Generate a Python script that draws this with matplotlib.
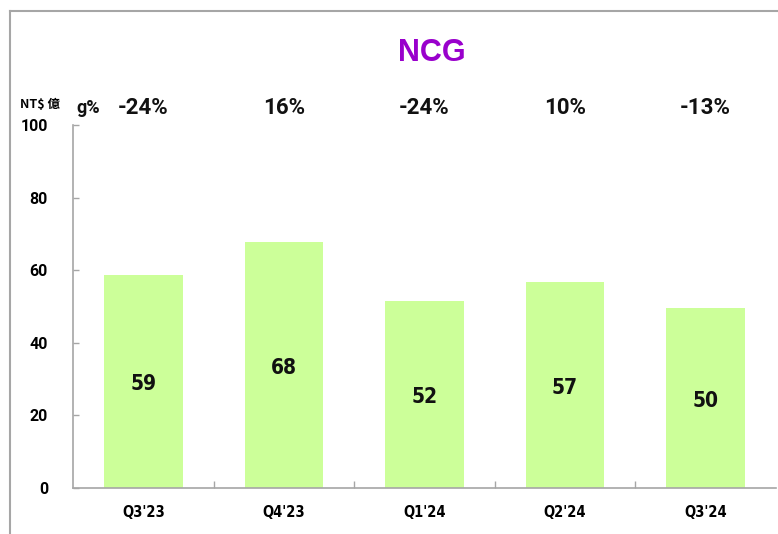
import matplotlib
matplotlib.use("Agg")
import matplotlib.pyplot as plt
from matplotlib.lines import Line2D

# data
quarters = ["Q3'23", "Q4'23", "Q1'24", "Q2'24", "Q3'24"]
revenue = [58.6, 67.8, 51.6, 56.7, 49.6]          # NT$ 億
growth = ["-24%", "16%", "-24%", "10%", "-13%"]   # g%
yticks = [0, 20, 40, 60, 80, 100]

bar_color = "#CCFF99"
grey = "#A6A6A6"
narrow = ["DejaVu Sans"]
roboto = ["Roboto", "DejaVu Sans"]

fig = plt.figure(figsize=(7.78, 5.34), dpi=100)
ax = fig.add_axes([73 / 778, 1 - 488 / 534, 703 / 778, 363 / 534])

x = range(len(quarters))
bars = ax.bar(x, revenue, width=0.56, color=bar_color)

# value labels in the middle of each bar
for rect, v in zip(bars, revenue):
    ax.annotate(f"{v:.0f}", (rect.get_x() + rect.get_width() / 2, v / 2),
                xytext=(0, -2), textcoords="offset points",
                ha="center", va="center", fontsize=15, fontweight="bold",
                family=narrow, fontstretch="condensed", color="#111111")

# growth row above the plot
for i, g in enumerate(growth):
    ax.text(i, 104.6, g, ha="center", va="center", fontsize=16,
            fontweight="bold", family=roboto, color="#111111")

ax.set_xlim(-0.5, len(quarters) - 0.5)
ax.set_ylim(0, 100)
ax.set_yticks(yticks)
ax.set_yticklabels([str(t) for t in yticks], fontsize=11.5,
                   fontweight="bold", family=roboto)
ax.set_xticks(list(x))
ax.set_xticklabels(quarters, fontsize=10.5, fontweight="bold", family=narrow,
                   fontstretch="condensed")
ax.set_xticks([i + 0.5 for i in range(len(quarters) - 1)], minor=True)

ax.tick_params(axis="y", direction="in", length=4, width=1, color=grey, pad=18)
ax.tick_params(axis="x", which="major", length=0, pad=12)
ax.tick_params(axis="x", which="minor", direction="in", length=5, width=1, color=grey)

for s in ["top", "right"]:
    ax.spines[s].set_visible(False)
for s in ["left", "bottom"]:
    ax.spines[s].set_color(grey)
    ax.spines[s].set_linewidth(1.2)

# unit and g% captions
fig.text(40 / 778, 1 - 104 / 534, "NT$ 億", ha="center", va="center",
         fontsize=9, fontweight="bold", family=["Noto Sans CJK TC", "DejaVu Sans"])
fig.text(88 / 778, 1 - 108 / 534, "g%", ha="center", va="center",
         fontsize=13, fontweight="bold", family=roboto, color="#111111")

# title
fig.text(432 / 778, 1 - 53 / 534, "NCG", ha="center", va="center",
         fontsize=22, fontweight="bold", family=["Liberation Sans", "DejaVu Sans"],
         color="#9900CC")

# frame lines (top and left only, the rest is cut off)
fig.add_artist(Line2D([10 / 778, 1], [1 - 11 / 534, 1 - 11 / 534],
                      color=grey, lw=1.5, transform=fig.transFigure))
fig.add_artist(Line2D([10 / 778, 10 / 778], [0, 1 - 11 / 534],
                      color=grey, lw=1.5, transform=fig.transFigure))

fig.savefig("out.png", dpi=100)
